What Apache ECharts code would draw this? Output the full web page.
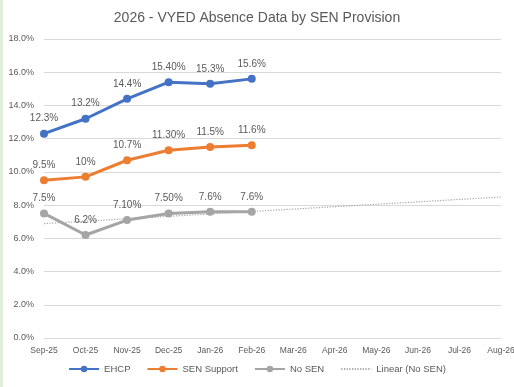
<!DOCTYPE html>
<html>
<head>
<meta charset="utf-8">
<script src="https://cdn.jsdelivr.net/npm/echarts@6/dist/echarts.min.js"></script>
<style>
  html, body { margin: 0; padding: 0; background: #fff; }
  #chart { width: 514px; height: 387px; }
</style>
</head>
<body>
<div id="chart"></div>
<script>
// Monthly categories for the 2025/26 academic year
const months = ['Sep-25', 'Oct-25', 'Nov-25', 'Dec-25', 'Jan-26', 'Feb-26',
                'Mar-26', 'Apr-26', 'May-26', 'Jun-26', 'Jul-26', 'Aug-26'];

// Absence rate (%) per SEN provision group
const ehcp       = [12.3, 13.2, 14.4, 15.4, 15.3, 15.6];
const senSupport = [9.5, 9.7, 10.7, 11.3, 11.5, 11.6];
const noSen      = [7.5, 6.2, 7.1, 7.5, 7.6, 7.6];

// Decimal places shown in each point's label
const ehcpDecimals       = [1, 1, 1, 2, 1, 1];
const senSupportDecimals = [1, 0, 1, 2, 1, 1];
const noSenDecimals      = [1, 1, 2, 2, 1, 1];

// Y axis tick labels
const yTicks = [0, 2, 4, 6, 8, 10, 12, 14, 16, 18];

// Least-squares linear trend of the No SEN series, extended over all months
function linearTrend(values, length) {
  const n = values.length;
  let sx = 0, sy = 0;
  values.forEach((v, i) => { sx += i; sy += v; });
  const mx = sx / n, my = sy / n;
  let sxy = 0, sxx = 0;
  values.forEach((v, i) => { sxy += (i - mx) * (v - my); sxx += (i - mx) * (i - mx); });
  const slope = sxy / sxx;
  const intercept = my - slope * mx;
  return Array.from({ length }, (_, i) => intercept + slope * i);
}
const noSenTrend = linearTrend(noSen, months.length);

const FONT = '"Liberation Sans", "DejaVu Sans", sans-serif';
const TEXT = '#595959';

function lineSeries(name, values, decimals, color) {
  return {
    name: name,
    type: 'line',
    data: values,
    symbol: 'circle',
    symbolSize: 8,
    lineStyle: { width: 3, color: color },
    itemStyle: { color: color },
    z: 3,
    label: {
      show: true,
      position: 'top',
      distance: 6,
      fontFamily: FONT,
      fontSize: 10,
      color: TEXT,
      formatter: p => p.value.toFixed(decimals[p.dataIndex]) + '%'
    }
  };
}

const chart = echarts.init(document.getElementById('chart'), null, { renderer: 'canvas' });
chart.setOption({
  backgroundColor: '#ffffff',
  animation: false,
  textStyle: { fontFamily: FONT },
  title: {
    text: '2026 - VYED Absence Data by SEN Provision',
    left: 'center',
    top: 6,
    textStyle: { fontFamily: FONT, fontSize: 14, fontWeight: 'normal', color: TEXT }
  },
  grid: { left: 44, right: 13, top: 39, bottom: 49, containLabel: false, outerBoundsMode: 'none' },
  xAxis: {
    type: 'category',
    data: months,
    boundaryGap: false,
    axisLine: { show: false },
    axisTick: { show: false },
    splitLine: { show: false },
    axisLabel: { fontFamily: FONT, fontSize: 8.5, color: TEXT, margin: 8, interval: 0 }
  },
  yAxis: {
    type: 'value',
    min: yTicks[0],
    max: yTicks[yTicks.length - 1],
    interval: 2,
    axisLine: { show: false },
    axisTick: { show: false },
    splitLine: { lineStyle: { color: '#d9d9d9', width: 1 } },
    axisLabel: { fontFamily: FONT, fontSize: 9, color: TEXT, margin: 10, formatter: v => v.toFixed(1) + '%' }
  },
  legend: {
    bottom: 8,
    left: 'center',
    itemWidth: 30,
    itemHeight: 8,
    itemGap: 16,
    textStyle: { fontFamily: FONT, fontSize: 9.5, color: TEXT },
    data: [
      'EHCP',
      'SEN Support',
      'No SEN',
      { name: 'Linear (No SEN)', itemStyle: { opacity: 0 } }
    ]
  },
  series: [
    lineSeries('EHCP', ehcp, ehcpDecimals, '#4472C4'),
    lineSeries('SEN Support', senSupport, senSupportDecimals, '#ED7D31'),
    lineSeries('No SEN', noSen, noSenDecimals, '#A5A5A5'),
    {
      name: 'Linear (No SEN)',
      type: 'line',
      data: noSenTrend,
      symbol: 'none',
      z: 2,
      lineStyle: { width: 1.2, color: '#A5A5A5', type: [1.2, 1.5] },
      itemStyle: { color: '#A5A5A5' }
    }
  ],
  graphic: [
    { type: 'rect', left: 0, top: 0, shape: { width: 3, height: 387 }, style: { fill: '#e2efda' }, silent: true }
  ]
});
</script>
</body>
</html>
